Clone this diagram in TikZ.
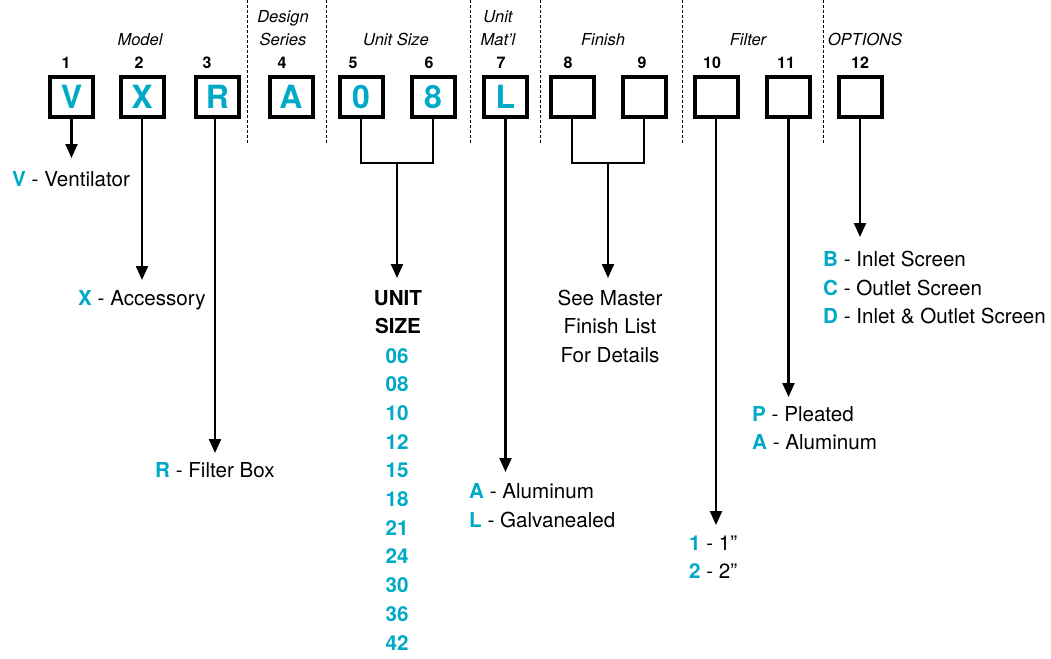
\documentclass[tikz,border=0pt]{standalone}
\usepackage{fontspec}
\setmainfont{TeX Gyre Heros}
\usetikzlibrary{arrows.meta}
\definecolor{cy}{RGB}{0,169,198}
\begin{document}
\begin{tikzpicture}[x=1pt,y=-1pt,
 box/.style={draw,line width=4pt,minimum width=43pt,minimum height=40pt,inner sep=0pt,font=\fontsize{32}{32}\selectfont\bfseries,text=cy},
 num/.style={anchor=base,inner sep=0pt,font=\fontsize{16}{16}\selectfont\bfseries},
 catlbl/.style={anchor=base,inner sep=0pt,font=\fontsize{16.5}{16.5}\selectfont\itshape},
 sepline/.style={line width=0.8pt,dash pattern=on 3pt off 2pt},
 conn/.style={line width=2.2pt},
 arr/.style={line width=2.2pt,-{Triangle[length=14pt,width=12pt]}},
 lbl/.style={anchor=base west,inner sep=0pt,font=\fontsize{20.6}{20.6}\selectfont},
 clbl/.style={anchor=base,inner sep=0pt,font=\fontsize{20.6}{20.6}\selectfont},
 sz/.style={anchor=base,inner sep=0pt,font=\fontsize{20.6}{20.6}\selectfont\bfseries,text=cy}]
\useasboundingbox (0,0) rectangle (1051,658);
\newcommand{\cl}[1]{\textcolor{cy}{\bfseries #1}}
% separators
\foreach \sx/\nm in {247/s1,326/s2,470/s3,540/s4,682/s5,823/s6}{
  \coordinate (\nm a) at (\sx,0);
  \coordinate (\nm b) at (\sx,143);
  \draw[sepline] (\nm a) -- (\nm b);
}
% category labels
\node[catlbl] (cmodel) at (140,46) {Model};
\node[catlbl] (cdes1) at (283,23) {Design};
\node[catlbl] (cdes2) at (283,46) {Series};
\node[catlbl] (csize) at (396,46) {Unit Size};
\node[catlbl] (cmat1) at (498,23) {Unit};
\node[catlbl] (cmat2) at (498,46) {Mat’l};
\node[catlbl] (cfin) at (603,46) {Finish};
\node[catlbl] (cfil) at (748,46) {Filter};
\node[catlbl] (copt) at (865,46) {OPTIONS};
% numbers
\foreach \nx/\nn in {66/1,139/2,207/3,282/4,353/5,429/6,501/7,568/8,642/9,712/10,786/11,860/12}{
  \node[num] (n\nn) at (\nx,69) {\nn};
}
% boxes
\node[box] (b1) at (71.5,97) {V};
\node[box] (b2) at (142,97) {X};
\node[box] (b3) at (217.5,97) {R};
\node[box] (b4) at (291,97) {A};
\node[box] (b5) at (361,97) {0};
\node[box] (b6) at (433,97) {8};
\node[box] (b7) at (505.5,97) {L};
\node[box] (b8) at (572,97) {};
\node[box] (b9) at (644,97) {};
\node[box] (b10) at (716,97) {};
\node[box] (b11) at (788.5,97) {};
\node[box] (b12) at (860,97) {};
% arrow ends
\coordinate (t1) at (71.5,158);
\coordinate (t2) at (142,280);
\coordinate (t3) at (215,453);
\coordinate (j56) at (397,163);
\coordinate (t56) at (397,278);
\coordinate (t7) at (505.5,472);
\coordinate (j89) at (608,163);
\coordinate (t89) at (608,278);
\coordinate (t10) at (716,525);
\coordinate (t11) at (788.5,397);
\coordinate (t12) at (860,237);
% connectors
\draw[arr] (b1.south) -- (t1);
\draw[arr] (b2.south) -- (t2);
\draw[arr] (b3.south -| t3) -- (t3);
\draw[conn] (b5.south) |- (j56) -| (b6.south);
\draw[arr] (j56) -- (t56);
\draw[arr] (b7.south) -- (t7);
\draw[conn] (b8.south) |- (j89) -| (b9.south);
\draw[arr] (j89) -- (t89);
\draw[arr] (b10.south) -- (t10);
\draw[arr] (b11.south) -- (t11);
\draw[arr] (b12.south) -- (t12);
% labels
\node[lbl] (lV) at (12,186) {\cl{V} - Ventilator};
\node[lbl] (lX) at (78,305) {\cl{X} - Accessory};
\node[lbl] (lR) at (155,477) {\cl{R} - Filter Box};
\node[sz,text=black] (us1) at (398,305) {UNIT};
\node[sz,text=black] (us2) at (398,333) {SIZE};
\foreach \v [count=\i from 0] in {06,08,10,12,15,18,21,24,30,36,42}{
  \node[sz] (sz\v) at (397,363+28.7*\i) {\v};
}
\node[clbl] (f1) at (610,305) {See Master};
\node[clbl] (f2) at (610,333) {Finish List};
\node[clbl] (f3) at (610,362) {For Details};
\node[lbl] (m1) at (469,498) {\cl{A} - Aluminum};
\node[lbl] (m2) at (469,527) {\cl{L} - Galvanealed};
\node[lbl] (o1) at (823,266) {\cl{B} - Inlet Screen};
\node[lbl] (o2) at (823,295) {\cl{C} - Outlet Screen};
\node[lbl] (o3) at (823,323) {\cl{D} - Inlet \& Outlet Screen};
\node[lbl] (p1) at (752,421) {\cl{P} - Pleated};
\node[lbl] (p2) at (752,449) {\cl{A} - Aluminum};
\node[lbl] (q1) at (689,550) {\cl{1} - 1”};
\node[lbl] (q2) at (689,578) {\cl{2} - 2”};
\end{tikzpicture}
\end{document}
